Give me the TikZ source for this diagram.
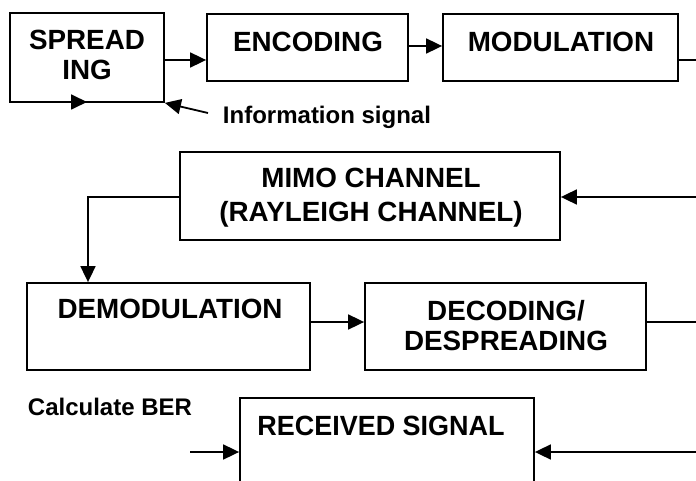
\documentclass[tikz,border=0pt]{standalone}
\usepackage{fontspec}
\setmainfont{Liberation Sans}
\usetikzlibrary{arrows.meta}
\begin{document}
\begin{tikzpicture}[x=1pt,y=-1pt,
  box/.style={draw, line width=1.8pt, inner sep=0pt},
  txt/.style={font=\fontsize{27.8}{32}\selectfont\bfseries, anchor=base, inner sep=0pt},
  lab/.style={font=\fontsize{24}{28}\selectfont\bfseries, anchor=base, inner sep=0pt},
  arr/.style={line width=1.8pt, -{Triangle[length=16pt,width=15pt]}},
  ln/.style={line width=1.8pt}]
\useasboundingbox (0,0) rectangle (696,481);
\clip (0,0) rectangle (696,481);
% boxes
\node[box, minimum width=154pt, minimum height=89pt] (spr) at (87,57.5) {};
\node[box, minimum width=201pt, minimum height=67pt] (enc) at (307.5,47.5) {};
\node[box, minimum width=235pt, minimum height=67pt] (mod) at (560.5,47.5) {};
\node[box, minimum width=380pt, minimum height=88pt] (mimo) at (370,196) {};
\node[box, minimum width=283pt, minimum height=87pt] (demod) at (168.5,326.5) {};
\node[box, minimum width=281pt, minimum height=87pt] (dec) at (505.5,326.5) {};
\node[box, minimum width=294pt, minimum height=132pt] (rec) at (387,464) {};
% texts
\node[txt] (t1a) at (87,50) {SPREAD};
\node[txt] (t1b) at (87,80) {ING};
\node[txt] (t2) at (308,52) {ENCODING};
\node[txt] (t3) at (561,52) {MODULATION};
\node[txt] (t4a) at (371,188) {MIMO CHANNEL};
\node[txt] (t4b) at (371,222) {(RAYLEIGH CHANNEL)};
\node[txt] (t5) at (170,318) {DEMODULATION};
\node[txt] (t6a) at (506,320) {DECODING/};
\node[txt] (t6b) at (506,350) {DESPREADING};
\node[txt, xscale=0.97] (t7) at (381,435) {RECEIVED SIGNAL};
\node[lab] (l1) at (327,123.6) {Information signal};
\node[lab] (l2) at (110,415.6) {Calculate BER};
% coordinates
\coordinate (r1) at (700,60);
\coordinate (r2) at (700,197);
\coordinate (r3) at (700,322);
\coordinate (r4) at (700,452);
\coordinate (k1) at (88,197);
\coordinate (l4) at (190,452);
\coordinate (b1) at (87,102);
\coordinate (i1) at (208,113);
% connectors
\draw[arr] ([yshift=-2.5pt]spr.east) -- ([yshift=-12.5pt]enc.west);
\draw[arr] ([yshift=1.5pt]enc.east) -- ([yshift=1.5pt]mod.west);
\draw[ln] ([yshift=-12.5pt]mod.east) -- (r1);
\draw[arr] (r2) -- ([yshift=-1pt]mimo.east);
\draw[arr] ([yshift=-1pt]mimo.west) -- (k1) -- (demod.north -| k1);
\draw[arr] ([yshift=4.5pt]demod.east) -- ([yshift=4.5pt]dec.west);
\draw[ln] ([yshift=4.5pt]dec.east) -- (r3);
\draw[arr] (r4) -- ([yshift=12pt]rec.east);
\draw[arr] (l4) -- ([yshift=12pt]rec.west);
\draw[arr] ([xshift=0.9pt,yshift=0.9pt]spr.south west) -- (b1);
\draw[arr] (i1) -- (spr.south east);
\end{tikzpicture}
\end{document}
